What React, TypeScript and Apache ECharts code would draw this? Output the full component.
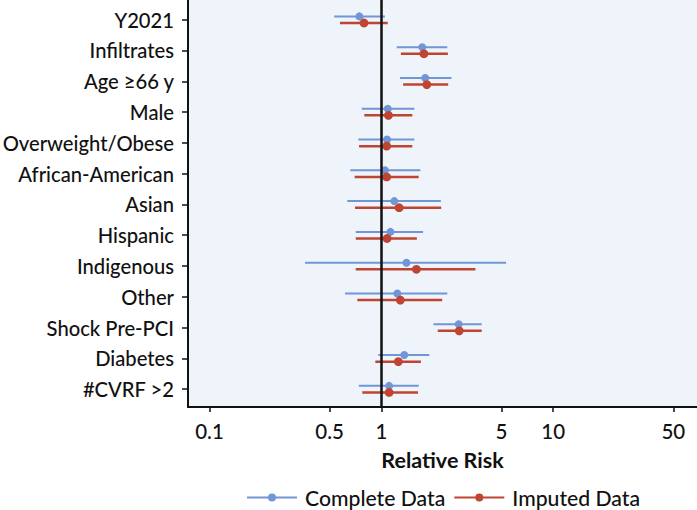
import React, { useEffect, useRef } from "react";
import * as echarts from "echarts";

const categories = [
  "Y2021",
  "Infiltrates",
  "Age ≥66 y",
  "Male",
  "Overweight/Obese",
  "African-American",
  "Asian",
  "Hispanic",
  "Indigenous",
  "Other",
  "Shock Pre-PCI",
  "Diabetes",
  "#CVRF >2",
];

const completeEst = [0.745, 1.73, 1.8, 1.09, 1.08, 1.05, 1.19, 1.13, 1.4, 1.24, 2.82, 1.36, 1.11];
const completeLo = [0.532, 1.23, 1.285, 0.77, 0.735, 0.66, 0.634, 0.71, 0.36, 0.615, 2.01, 0.96, 0.74];
const completeHi = [1.05, 2.42, 2.56, 1.556, 1.556, 1.687, 2.22, 1.75, 5.32, 2.42, 3.84, 1.9, 1.65];

const imputedEst = [0.793, 1.77, 1.84, 1.1, 1.075, 1.075, 1.27, 1.08, 1.6, 1.29, 2.84, 1.256, 1.11];
const imputedLo = [0.575, 1.3, 1.34, 0.796, 0.742, 0.7, 0.703, 0.71, 0.71, 0.725, 2.13, 0.923, 0.775];
const imputedHi = [1.09, 2.44, 2.45, 1.515, 1.515, 1.65, 2.23, 1.61, 3.53, 2.26, 3.84, 1.7, 1.635];

const xTicks = [0.1, 0.5, 1, 5, 10, 50];

const BLUE = "#7096d7";
const RED = "#c04432";
const INK = "#111111";
const FONT = "Lato";

const legendIcon =
  "path://M0,3h50v2h-50z M21,4a4,4 0 1,1 8,0a4,4 0 1,1 -8,0z";

function buildData(lo: number[], est: number[], hi: number[]) {
  return categories.map((_, i) => [lo[i], est[i], hi[i], i]);
}

function makeSeries(name: string, color: string, data: number[][], dy: number, r: number, lw: number) {
  return {
    name,
    type: "custom",
    z: 3,
    itemStyle: { color },
    encode: { x: [0, 1, 2], y: 3 },
    data,
    renderItem: (params: any, api: any) => {
      const y = api.value(3);
      const lo = api.coord([api.value(0), y]);
      const hi = api.coord([api.value(2), y]);
      const pt = api.coord([api.value(1), y]);
      return {
        type: "group",
        children: [
          {
            type: "line",
            shape: { x1: lo[0], y1: lo[1] + dy, x2: hi[0], y2: hi[1] + dy },
            style: { stroke: color, lineWidth: lw },
          },
          {
            type: "circle",
            shape: { cx: pt[0], cy: pt[1] + dy, r },
            style: { fill: color },
          },
        ],
      };
    },
  };
}

export default function App() {
  const ref = useRef<HTMLDivElement>(null);
  useEffect(() => {
    if (!ref.current) return;
    const chart = echarts.init(ref.current, null, { renderer: "svg" });
    chart.setOption({
      animation: false,
      textStyle: { fontFamily: FONT },
      grid: {
        left: 188,
        top: 0,
        right: 0,
        height: 407,
        show: true,
        backgroundColor: "#eff3fa",
        borderWidth: 0,
        containLabel: false,
        outerBoundsMode: "none",
      },
      xAxis: {
        type: "log",
        logBase: 10,
        min: 0.075,
        max: 68.7,
        name: "Relative Risk",
        nameLocation: "middle",
        nameGap: 42,
        nameTextStyle: { fontFamily: FONT, fontSize: 21.5, fontWeight: "bold", color: INK },
        axisLine: { show: true, onZero: false, lineStyle: { color: INK, width: 2 } },
        axisTick: { show: true, length: 5, customValues: xTicks, lineStyle: { color: INK, width: 1.5 } },
        axisLabel: {
          customValues: xTicks,
          formatter: (v: number) => String(v),
          fontFamily: FONT,
          fontSize: 20.5,
          fontWeight: 500,
          color: INK,
          margin: 13,
        },
        splitLine: { show: false },
        minorSplitLine: { show: false },
      },
      yAxis: {
        type: "value",
        inverse: true,
        min: -0.64,
        max: 12.58,
        axisLine: { show: true, onZero: false, lineStyle: { color: INK, width: 2 } },
        axisTick: { show: true, length: 6, customValues: categories.map((_, i) => i), lineStyle: { color: INK, width: 1.5 } },
        axisLabel: {
          customValues: categories.map((_, i) => i),
          formatter: (v: number) => categories[Math.round(v)] ?? "",
          fontFamily: FONT,
          fontSize: 20.2,
          fontWeight: 500,
          color: INK,
          margin: 14,
        },
        splitLine: { show: false },
      },
      legend: {
        left: 247,
        top: 487,
        padding: 0,
        itemWidth: 50,
        itemHeight: 8,
        itemGap: 9,
        textStyle: { fontFamily: FONT, fontSize: 21.2, fontWeight: 500, color: INK, padding: [0, 0, 0, 3] },
        data: [
          { name: "Complete Data", icon: legendIcon, itemStyle: { color: BLUE } },
          { name: "Imputed Data", icon: legendIcon, itemStyle: { color: RED } },
        ],
      },
      series: [
        {
          name: "ref",
          type: "custom",
          z: 1,
          data: [],
          renderItem: () => null,
          markLine: {
            silent: true,
            symbol: "none",
            label: { show: false },
            lineStyle: { color: INK, width: 2.5, type: "solid" },
            data: [{ xAxis: 1 }],
          },
        },
        makeSeries("Complete Data", BLUE, buildData(completeLo, completeEst, completeHi), -3.3, 4, 2),
        makeSeries("Imputed Data", RED, buildData(imputedLo, imputedEst, imputedHi), 3.3, 4.4, 2.5),
      ],
    });
    return () => chart.dispose();
  }, []);
  return (
    <div
      ref={ref}
      style={{ position: "absolute", left: 0, top: 0, width: 697, height: 510 }}
    />
  );
}
